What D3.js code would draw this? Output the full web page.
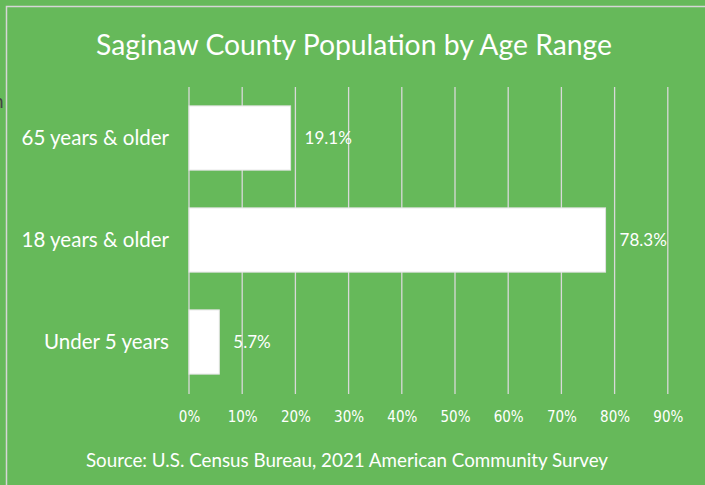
<!DOCTYPE html>
<html>
<head>
<meta charset="utf-8">
<script src="https://cdn.jsdelivr.net/npm/d3@7"></script>
<style>
  html, body { margin: 0; padding: 0; background: #66b95a; overflow: hidden; }
  svg { display: block; }
</style>
</head>
<body>
<div id="chart"></div>
<script>
// Data
const categories = ["65 years & older", "18 years & older", "Under 5 years"];
const values = [19.1, 78.3, 5.7];
const tickValues = [0, 10, 20, 30, 40, 50, 60, 70, 80, 90];

const width = 705, height = 485;
const green = "#66b95a";

const svg = d3.select("#chart").append("svg")
  .attr("width", width)
  .attr("height", height);

svg.append("rect")
  .attr("width", width).attr("height", height)
  .attr("fill", green);

// outer frame (right and bottom edges fall outside the crop)
svg.append("rect")
  .attr("x", 6.5).attr("y", 6.5)
  .attr("width", width + 20).attr("height", height + 20)
  .attr("fill", "none")
  .attr("stroke", "#d6d6d6")
  .attr("stroke-width", 1.5);

// stray glyph cut off at the left edge
svg.append("text")
  .attr("x", -7).attr("y", 108)
  .attr("font-family", "Lato, sans-serif")
  .attr("font-size", 19)
  .attr("fill", "#444")
  .text("n");

svg.append("text")
  .attr("x", 354).attr("y", 55)
  .attr("text-anchor", "middle")
  .attr("font-family", "Lato, sans-serif")
  .attr("font-size", 28.3)
  .attr("fill", "#fff")
  .text("Saginaw County Population by Age Range");

const x = d3.scaleLinear().domain([0, 100]).range([189, 721]);
const y = d3.scaleBand().domain(categories).range([87, 393]).paddingInner(0.37).paddingOuter(0.185);

// gridlines
svg.append("g")
  .selectAll("line")
  .data(tickValues)
  .join("line")
  .attr("x1", d => x(d)).attr("x2", d => x(d))
  .attr("y1", 87).attr("y2", 394)
  .attr("stroke", "#d9d9d9")
  .attr("stroke-width", 1.3);

// bars
svg.append("g")
  .selectAll("rect")
  .data(values)
  .join("rect")
  .attr("x", x(0))
  .attr("y", (d, i) => y(categories[i]))
  .attr("width", d => x(d) - x(0))
  .attr("height", y.bandwidth())
  .attr("fill", "#fff")
  .attr("stroke", "#e2e2e2")
  .attr("stroke-width", 1);

// value labels
svg.append("g")
  .selectAll("text")
  .data(values)
  .join("text")
  .attr("x", d => x(d) + 14)
  .attr("y", (d, i) => y(categories[i]) + y.bandwidth() / 2)
  .attr("dy", "0.35em")
  .attr("font-family", "Lato, sans-serif")
  .attr("font-size", 17)
  .attr("fill", "#fff")
  .text(d => d.toFixed(1) + "%");

// category axis
const yAxis = svg.append("g")
  .attr("transform", "translate(" + x(0) + ",0)")
  .call(d3.axisLeft(y).tickSize(0).tickPadding(20));
yAxis.select(".domain").remove();
yAxis.selectAll("text")
  .attr("font-family", "Lato, sans-serif")
  .attr("font-size", 20.5)
  .attr("fill", "#fff");

// value axis
const xAxis = svg.append("g")
  .attr("transform", "translate(0,394)")
  .call(d3.axisBottom(x).tickValues(tickValues).tickSize(0).tickPadding(17)
    .tickFormat(d => d + "%"));
xAxis.select(".domain").remove();
xAxis.selectAll("text")
  .attr("font-family", "'DejaVu Sans Condensed', 'Liberation Sans Narrow', sans-serif")
  .attr("font-stretch", "condensed")
  .attr("font-size", 15)
  .attr("fill", "#fff");

svg.append("text")
  .attr("x", 347).attr("y", 467)
  .attr("text-anchor", "middle")
  .attr("font-family", "Lato, sans-serif")
  .attr("font-size", 18.8)
  .attr("fill", "#fff")
  .text("Source: U.S. Census Bureau, 2021 American Community Survey");
</script>
</body>
</html>
